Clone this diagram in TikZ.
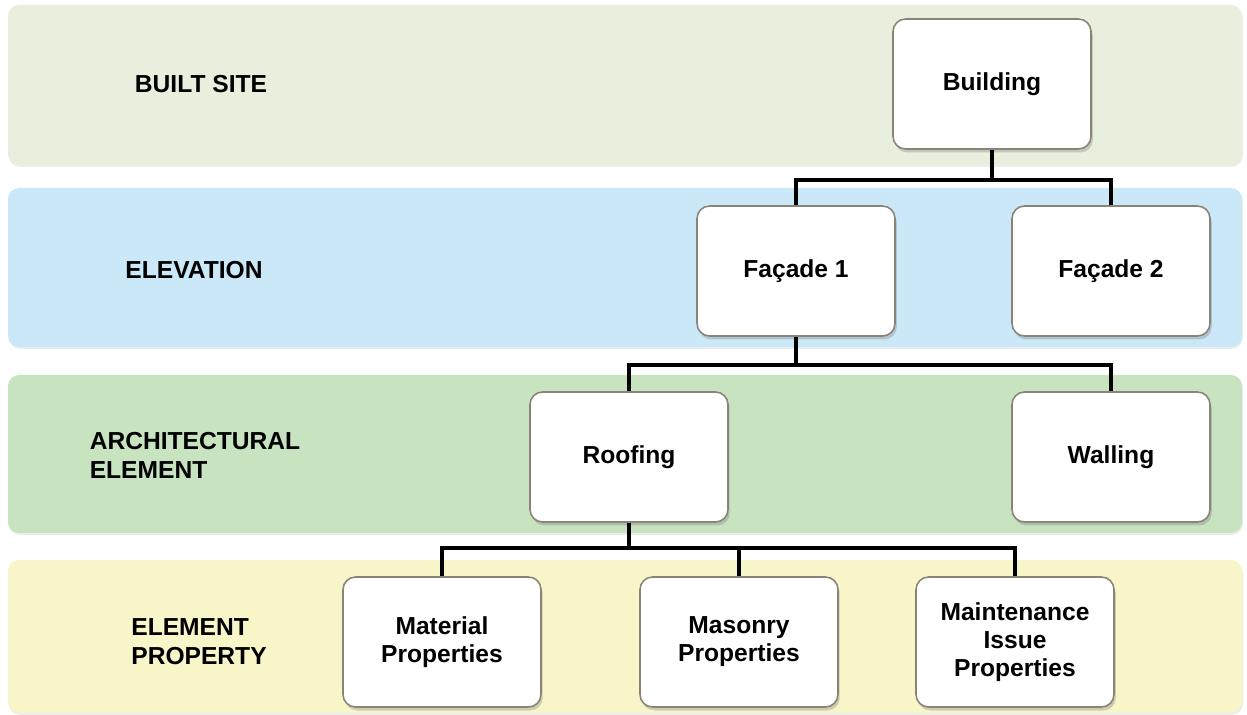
\documentclass[tikz,border=0pt]{standalone}
\usepackage{fontspec}
\setmainfont{Liberation Sans}
\usetikzlibrary{shadows}
\definecolor{sitebg}{HTML}{E8EFDC}
\definecolor{elevbg}{HTML}{CAE8F8}
\definecolor{archbg}{HTML}{C8E3C0}
\definecolor{propbg}{HTML}{F8F5C8}
\definecolor{boxline}{HTML}{8A8478}

\begin{document}
\begin{tikzpicture}[x=0.02cm,y=-0.02cm,
    band/.style={rounded corners=0.22cm,
        drop shadow={opacity=0.15,shadow xshift=0.5pt,shadow yshift=-1pt}},
    tree/.style={draw=black,line width=2.2pt}]
\useasboundingbox (0,0) rectangle (1247,715);

% background bands
\fill[band,sitebg] (8,5) rectangle (1242,165);
\fill[band,elevbg] (8,188) rectangle (1242,347);
\fill[band,archbg] (8,375) rectangle (1242,533);
\fill[band,propbg] (8,560) rectangle (1242,713);

% level names
\begin{scope}[every node/.style={font=\fontsize{14}{16.5}\selectfont\bfseries,align=left}]
    \node (lsite) at (201,84) {BUILT SITE};
    \node (lelev) at (194,270) {ELEVATION};
    \node (larch) at (195,455) {ARCHITECTURAL\\ELEMENT};
    \node (lprop) at (199,642) {ELEMENT\\PROPERTY};
\end{scope}

% tree boxes
\begin{scope}[every node/.style={draw=boxline,line width=0.9pt,fill=white,
              rounded corners=0.25cm,minimum width=3.96cm,minimum height=2.6cm,
              align=center,font=\fontsize{14}{16}\selectfont\bfseries,
              drop shadow={opacity=0.35,shadow xshift=1pt,shadow yshift=-2pt}}]
    \node (bld) at (992,84) {Building};
    \node (fac1) at (796,271) {Façade 1};
    \node (fac2) at (1111,271) {Façade 2};
    \node (roof) at (629,457) {Roofing};
    \node (wall) at (1111,457) {Walling};
    \node (mat) at (442,642) {Material\\Properties};
    \node (mas) at (739,642) {Masonry\\Properties};
    \node (mnt) at (1015,642) {Maintenance\\Issue\\Properties};
\end{scope}

% connectors
\coordinate (j1) at (992,180);
\coordinate (j2) at (796,365);
\coordinate (j3) at (629,548);
\draw[tree] (bld.south) -- (j1) -| (fac1.north);
\draw[tree] (j1) -| (fac2.north);
\draw[tree] (fac1.south) -- (j2) -| (roof.north);
\draw[tree] (j2) -| (wall.north);
\draw[tree] (roof.south) -- (j3) -| (mat.north);
\draw[tree] (j3) -| (mas.north);
\draw[tree] (j3) -| (mnt.north);
\end{tikzpicture}
\end{document}
